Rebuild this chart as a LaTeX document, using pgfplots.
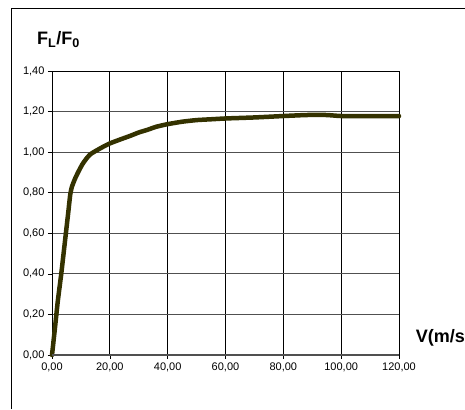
\documentclass[border=0pt]{standalone}
\usepackage{pgfplots}
\pgfplotsset{compat=1.18}
\usepackage{fontspec}
\setmainfont{Liberation Sans}
\definecolor{curve}{RGB}{52,50,0}
\definecolor{hgrid}{RGB}{80,80,80}
\begin{document}
\begin{tikzpicture}
\path[use as bounding box] (0pt,0pt) rectangle (465pt,409pt);
\draw[black,line width=1pt] (11pt,0pt) -- (11pt,400pt) -- (466pt,400pt);
\begin{axis}[
  at={(52pt,54pt)}, anchor=south west,
  scale only axis, width=347pt, height=284pt,
  xmin=0, xmax=120, ymin=0, ymax=1.4,
  xtick={0,20,...,120}, ytick={0,0.2,...,1.4},
  axis line style={black, line width=0.8pt},
  tick style={black, line width=0.6pt},
  tick align=outside, major tick length=4pt,
  xtick pos=bottom, ytick pos=left,
  grid=major,
  x grid style={black, line width=0.8pt},
  y grid style={hgrid, line width=0.9pt},
  ticklabel style={font=\fontsize{11}{13}\selectfont},
  /pgf/number format/assume math mode=true,
  /pgf/number format/.cd, fixed, fixed zerofill, precision=2, use comma, 1000 sep={},
  /tikz/.cd,
  clip=false,
]
\addplot[curve, line width=4.5pt, line join=round, line cap=round, smooth, tension=0.3] coordinates {
(0,0) (1,0.13) (2,0.265) (3.2,0.40) (4,0.50) (4.8,0.60) (5.6,0.70) (6.3,0.79) (6.9,0.83)
(8,0.87) (9,0.90) (10.5,0.94) (12,0.97) (13.3,0.99) (15,1.005) (17.5,1.025) (20,1.043)
(23.5,1.062) (27,1.08) (30,1.097) (33,1.11) (36,1.125) (40,1.138) (45,1.15) (50,1.158)
(55,1.162) (60,1.166) (70,1.171) (80,1.178) (88,1.183) (95,1.183) (100,1.178) (110,1.178) (120,1.178)
};
\draw[hgrid, line width=1.6pt] (axis cs:0,0) -- (axis cs:120,0);
\end{axis}
\node[anchor=base west, font=\bfseries\fontsize{18}{20}\selectfont, inner sep=0pt] at (37pt,364pt) {F\textsubscript{L}/F\textsubscript{0}};
\node[anchor=base east, font=\bfseries\fontsize{18}{20}\selectfont, inner sep=0pt] at (465pt,66pt) {V(m/s};
\end{tikzpicture}
\end{document}
